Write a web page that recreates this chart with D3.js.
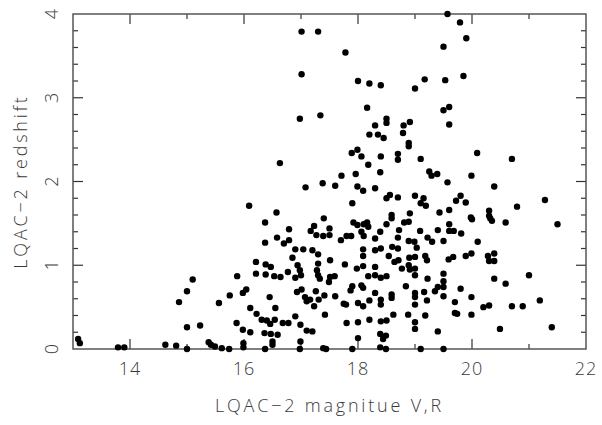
<!DOCTYPE html>
<html>
<head>
<meta charset="utf-8">
<script src="https://cdn.jsdelivr.net/npm/d3@7"></script>
<style>
  body { margin: 0; background: #fff; }
  text { font-family: "Open Sans", "DejaVu Sans", sans-serif; font-weight: 300; fill: #3a3a3a; }
  .frame { fill: none; stroke: #555; stroke-width: 1.5; }
  .tick { stroke: #333; stroke-width: 1.2; }
</style>
</head>
<body>
<div id="chart"></div>
<script>
var width = 602;
var height = 425;
var margin = { left: 73, right: 16, top: 14, bottom: 76 };

// axis ranges and labels
var X_DOMAIN = [13, 22];
var Y_DOMAIN = [0, 4];
var xTickLabels = [14, 16, 18, 20, 22];
var yTickLabels = [0, 1, 2, 3, 4];
var X_TITLE = 'LQAC\u22122 magnitue V,R';
var Y_TITLE = 'LQAC\u22122 redshift';

// magnitude (V,R) of each quasar
var magnitude = [
  13.09, 13.12, 13.79, 13.90, 14.62, 14.81, 14.86, 15.00, 15.00, 15.00,
  15.10, 15.23, 15.38, 15.42, 15.49, 15.61, 15.74, 15.56, 15.75, 15.87,
  15.88, 15.98, 16.04, 15.98, 15.99, 15.99, 16.11, 16.11, 16.09, 16.21,
  16.21, 16.22, 16.31, 16.37, 16.37, 16.38, 16.38, 16.40, 16.36, 16.37,
  16.45, 16.47, 16.46, 16.47, 16.50, 16.50, 16.53, 16.54, 16.55, 16.57,
  16.58, 16.59, 16.63, 16.64, 16.70, 16.68, 16.78, 16.79, 16.79, 16.77,
  16.85, 16.90, 16.90, 16.90, 16.93, 16.94, 16.98, 17.00, 17.01, 16.99,
  16.99, 16.98, 17.01, 17.01, 16.98, 17.04, 17.08, 17.07, 17.10, 17.10,
  17.17, 17.16, 17.20, 17.30, 17.23, 17.23, 17.20, 17.26, 17.27, 17.28,
  17.30, 17.30, 17.31, 17.30, 17.34, 17.33, 17.38, 17.39, 17.40, 17.41,
  17.42, 17.39, 17.44, 17.50, 17.50, 17.51, 17.51, 17.49, 17.59, 17.60,
  17.60, 17.71, 17.70, 17.77, 17.75, 17.79, 17.78, 17.80, 17.80, 17.87,
  17.88, 17.89, 17.90, 17.90, 17.90, 17.92, 17.96, 17.98, 17.99, 17.99,
  17.99, 18.00, 18.00, 18.00, 18.00, 18.06, 18.06, 18.06, 18.09, 18.09,
  18.10, 18.10, 18.09, 18.09, 18.09, 18.09, 18.16, 18.18, 18.16, 18.18,
  18.18, 18.20, 18.20, 18.20, 18.20, 18.30, 18.30, 18.30, 18.30, 18.30,
  18.30, 18.30, 18.35, 18.39, 18.39, 18.40, 18.40, 18.40, 18.40, 18.40,
  18.40, 18.40, 18.39, 18.44, 18.39, 18.45, 18.49, 18.49, 18.50, 18.50,
  18.50, 18.50, 18.50, 18.50, 18.54, 18.56, 18.59, 18.59, 18.59, 18.59,
  18.60, 18.62, 18.64, 18.70, 18.70, 18.70, 18.70, 18.70, 18.71, 18.72,
  18.77, 18.80, 18.79, 18.81, 18.84, 18.88, 18.91, 18.89, 18.89, 18.89,
  18.91, 18.89, 18.90, 18.89, 18.91, 19.00, 18.99, 19.00, 19.00, 19.00,
  19.00, 19.00, 19.00, 19.00, 19.00, 19.00, 19.03, 19.10, 19.10, 19.09,
  19.10, 19.15, 19.17, 19.16, 19.18, 19.18, 19.19, 19.21, 19.21, 19.22,
  19.22, 19.25, 19.29, 19.30, 19.35, 19.39, 19.40, 19.40, 19.40, 19.43,
  19.50, 19.50, 19.50, 19.50, 19.50, 19.50, 19.50, 19.50, 19.53, 19.57,
  19.57, 19.59, 19.60, 19.60, 19.60, 19.60, 19.60, 19.67, 19.68, 19.70,
  19.70, 19.74, 19.72, 19.79, 19.80, 19.80, 19.81, 19.85, 19.90, 19.89,
  19.89, 19.98, 20.00, 19.99, 19.99, 19.99, 19.99, 20.09, 20.10, 20.20,
  20.28, 20.30, 20.30, 20.32, 20.35, 20.30, 20.30, 20.39, 20.39, 20.39,
  20.39, 20.49, 20.59, 20.59, 20.70, 20.70, 20.79, 20.89, 21.00, 21.19,
  21.28, 21.40, 21.50
];

// redshift of each quasar, same order as magnitude
var redshift = [
  0.12, 0.07, 0.02, 0.02, 0.05, 0.04, 0.56, 0.69, 0.26, 0.00,
  0.83, 0.28, 0.08, 0.05, 0.03, 0.01, 0.00, 0.55, 0.64, 0.31,
  0.87, 0.67, 0.71, 0.23, 0.07, 0.02, 0.20, 0.49, 1.71, 1.04,
  0.90, 0.42, 0.35, 1.51, 1.27, 1.01, 0.89, 0.34, 0.19, 0.00,
  0.62, 0.98, 0.30, 0.18, 0.09, 0.05, 0.87, 0.35, 0.49, 1.63,
  1.33, 0.17, 2.22, 0.86, 1.26, 0.31, 0.31, 1.43, 1.30, 0.92,
  1.09, 1.19, 0.39, 0.85, 0.68, 1.00, 0.94, 0.88, 0.71, 0.29,
  0.09, 0.00, 3.79, 3.28, 2.75, 1.19, 1.93, 0.62, 0.57, 0.22,
  1.41, 0.59, 1.18, 1.13, 1.47, 0.51, 0.21, 0.69, 1.36, 0.94,
  1.02, 0.88, 0.59, 3.79, 2.79, 0.84, 1.98, 1.35, 1.56, 0.64,
  0.41, 0.01, 0.00, 1.44, 1.36, 1.06, 0.86, 0.80, 0.87, 1.95,
  0.63, 2.07, 1.30, 1.01, 0.54, 0.53, 3.54, 1.35, 0.31, 0.70,
  1.35, 2.34, 1.74, 0.75, 0.00, 1.51, 2.09, 0.96, 2.38, 1.94,
  1.48, 0.55, 0.32, 0.13, 3.20, 2.30, 1.40, 0.76, 0.73, 1.89,
  1.49, 1.35, 1.19, 1.11, 0.99, 0.51, 2.88, 2.20, 1.51, 1.46,
  0.87, 0.58, 0.35, 3.17, 2.56, 2.67, 1.92, 1.32, 1.18, 0.98,
  0.88, 0.67, 2.56, 2.11, 1.40, 3.15, 2.30, 1.20, 0.85, 0.59,
  0.53, 0.33, 0.18, 0.12, 0.02, 2.52, 0.16, 0.00, 2.75, 2.70,
  1.80, 1.49, 0.87, 0.34, 1.11, 1.84, 1.60, 1.56, 0.65, 0.61,
  1.22, 0.41, 1.04, 2.33, 2.26, 1.81, 1.33, 1.20, 1.06, 1.42,
  0.96, 2.67, 2.58, 1.51, 0.75, 0.41, 2.71, 2.46, 2.42, 1.52,
  1.62, 1.29, 1.09, 1.00, 0.95, 3.11, 1.28, 1.83, 1.10, 0.96,
  0.88, 0.67, 0.62, 0.53, 0.32, 0.24, 1.21, 2.27, 1.74, 1.41,
  0.00, 1.80, 3.22, 0.68, 1.11, 0.40, 1.71, 1.06, 0.58, 0.84,
  1.33, 2.12, 2.07, 1.28, 0.69, 2.09, 1.42, 0.21, 0.74, 1.63,
  3.61, 2.85, 1.29, 0.90, 0.81, 0.74, 0.63, 0.00, 3.21, 4.00,
  1.99, 1.07, 2.89, 2.68, 1.66, 1.49, 1.41, 1.10, 1.41, 0.56,
  0.43, 0.42, 1.77, 3.90, 1.83, 0.72, 1.38, 3.26, 3.71, 1.75,
  1.11, 1.57, 1.55, 2.07, 1.14, 0.62, 0.41, 2.34, 1.28, 0.50,
  1.11, 1.65, 1.59, 1.56, 1.53, 1.05, 0.52, 1.94, 1.14, 1.05,
  0.84, 0.24, 1.51, 0.78, 0.51, 2.27, 1.70, 0.51, 0.88, 0.58,
  1.78, 0.26, 1.49
];

var svg = d3.select('#chart')
    .append('svg')
    .attr('width', width)
    .attr('height', height);

var x = d3.scaleLinear()
    .domain(X_DOMAIN)
    .range([margin.left, width - margin.right]);

var y = d3.scaleLinear()
    .domain(Y_DOMAIN)
    .range([height - margin.bottom, margin.top]);

var x0 = x.range()[0], x1 = x.range()[1];
var y0 = y.range()[0], y1 = y.range()[1];

// ticks: x major every 2, minor every 1; y major every 1, minor every 0.2
var xMinor = d3.range(X_DOMAIN[0] + 1, X_DOMAIN[1], 1);
var yMinor = d3.range(1, 20).map(function (i) { return i * 0.2; });

var ticks = svg.append('g');

xMinor.forEach(function (v) {
    var len = (v % 2 == 0) ? 10 : 5;
    ticks.append('line').attr('class', 'tick')
        .attr('x1', x(v)).attr('x2', x(v))
        .attr('y1', y0).attr('y2', y0 - len);
    ticks.append('line').attr('class', 'tick')
        .attr('x1', x(v)).attr('x2', x(v))
        .attr('y1', y1).attr('y2', y1 + len);
});

yMinor.forEach(function (v) {
    var len = (Math.abs(v - Math.round(v)) < 1e-6) ? 10 : 5;
    ticks.append('line').attr('class', 'tick')
        .attr('x1', x0).attr('x2', x0 + len)
        .attr('y1', y(v)).attr('y2', y(v));
    ticks.append('line').attr('class', 'tick')
        .attr('x1', x1).attr('x2', x1 - len)
        .attr('y1', y(v)).attr('y2', y(v));
});

svg.append('rect')
    .attr('class', 'frame')
    .attr('x', x0)
    .attr('y', y1)
    .attr('width', x1 - x0)
    .attr('height', y0 - y1);

// points
svg.append('g')
    .selectAll('circle')
    .data(magnitude)
    .enter().append('circle')
    .attr('cx', function (d) { return x(d); })
    .attr('cy', function (d, i) { return y(redshift[i]); })
    .attr('r', 3.2)
    .attr('fill', '#000');

// tick labels
svg.append('g')
    .selectAll('text')
    .data(xTickLabels)
    .enter().append('text')
    .attr('x', function (d) { return x(d); })
    .attr('y', y0 + 26)
    .attr('text-anchor', 'middle')
    .style('font-size', '18px')
    .style('letter-spacing', '1px')
    .text(function (d) { return d; });

svg.append('g')
    .selectAll('text')
    .data(yTickLabels)
    .enter().append('text')
    .attr('transform', function (d) {
        return 'translate(' + (x0 - 15) + ',' + y(d) + '),rotate(-90)';
    })
    .attr('text-anchor', 'middle')
    .style('font-size', '18px')
    .text(function (d) { return d; });

// axis titles
svg.append('text')
    .attr('x', (x0 + x1) / 2)
    .attr('y', y0 + 63)
    .attr('text-anchor', 'middle')
    .style('font-size', '18px')
    .style('letter-spacing', '2.8px')
    .text(X_TITLE);

svg.append('text')
    .attr('transform', 'translate(' + 27 + ',' + ((y0 + y1) / 2) + '),rotate(-90)')
    .attr('text-anchor', 'middle')
    .style('font-size', '18px')
    .style('letter-spacing', '2.8px')
    .text(Y_TITLE);
</script>
</body>
</html>
